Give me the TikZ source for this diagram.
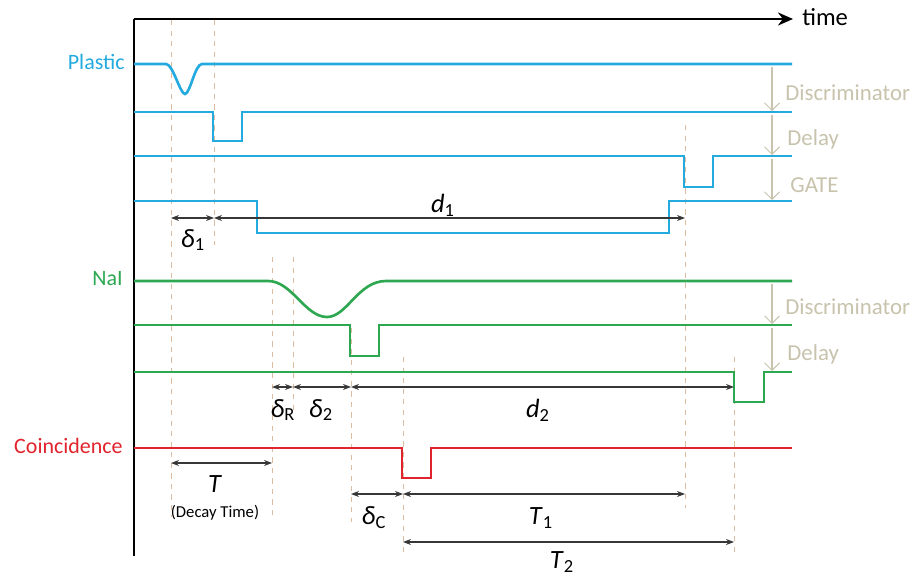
\documentclass[tikz,border=0pt]{standalone}
\usepackage{fontspec}
\setmainfont{Carlito}
\usepackage{tikz}
\usetikzlibrary{arrows.meta,positioning}
\definecolor{plastC}{RGB}{35,170,222}
\definecolor{naiG}{RGB}{45,168,80}
\definecolor{coinR}{RGB}{225,35,45}
\definecolor{stepT}{RGB}{200,195,172}
\definecolor{markD}{RGB}{222,188,160}
\definecolor{dimK}{RGB}{55,55,55}
\newcommand{\tsym}[2]{\textit{#1}\textsubscript{#2}}

\begin{document}
\begin{tikzpicture}[x=0.02cm, y=-0.02cm, font=\fontsize{12.5}{15}\selectfont,
  pl/.style={draw=plastC, line width=1.5pt},
  na/.style={draw=naiG, line width=1.5pt},
  co/.style={draw=coinR, line width=1.5pt},
  tmark/.style={draw=markD, dashed, line width=0.5pt},
  dim/.style={draw=dimK, line width=0.7pt, {Stealth[length=1.6mm]}-{Stealth[length=1.6mm]}},
  stage/.style={draw=stepT, line width=0.6pt, -{Straight Barb[length=1.5mm]}},
  stagetxt/.style={text=stepT, anchor=west, inner sep=0, font=\fontsize{13}{15}\selectfont},
  sig/.style={anchor=east, inner sep=0},
  dimtxt/.style={font=\fontsize{15}{17}\selectfont, inner sep=0}]
  \useasboundingbox (0,0) rectangle (914,578);
  % event times
  \coordinate (tP) at (171,0);
  \coordinate (tD) at (214,0);
  \coordinate (tN) at (272,0);
  \coordinate (tR) at (293,0);
  \coordinate (tC) at (351,0);
  \coordinate (tK) at (403,0);
  \coordinate (tG) at (685,0);
  \coordinate (tE) at (734,0);
  % dashed time markers
  \draw[tmark] (171,20) -- (171,517);
  \draw[tmark] (214,20) -- (214,245);
  \draw[tmark] (272,257) -- (272,517);
  \draw[tmark] (293,257) -- (293,415);
  \draw[tmark] (351,328) -- (351,522);
  \draw[tmark] (403,357) -- (403,556);
  \draw[tmark] (685,125) -- (685,508);
  \draw[tmark] (734,357) -- (734,553);
  % axes
  \coordinate (o) at (134,556);
  \coordinate (top) at (134,19);
  \coordinate (tend) at (793,19);
  \node[inner sep=0, anchor=west, font=\fontsize{14}{16}\selectfont] (time) at (802,17) {time};
  \draw[line width=1.5pt] (o) -- (top);
  \draw[line width=1.5pt, -{Stealth[length=3mm, width=2.6mm]}] (top) -- (tend);
  % plastic signals
  \node[sig, text=plastC] (plast) at (125,62) {Plastic};
  \draw[pl] (134,64) -- (166,64) .. controls (173,64) and (180,94) .. (185,94)
    .. controls (190,94) and (195,64) .. (202,64) -- (792,64);
  \draw[pl] (134,112) -- (213,112) -- (213,141) -- (242,141) -- (242,112) -- (792,112);
  \draw[pl] (134,156) -- (684,156) -- (684,187) -- (713,187) -- (713,156) -- (792,156);
  \draw[pl] (134,201) -- (257,201) -- (257,233) -- (669,233) -- (669,201) -- (792,201);
  % NaI signals
  \node[sig, text=naiG] (nai) at (123,279) {NaI};
  \draw[na] (134,281) -- (268,281) .. controls (292,281) and (305,317) .. (327,317)
    .. controls (347,317) and (358,281) .. (386,281) -- (792,281);
  \draw[na] (134,325) -- (350,325) -- (350,356) -- (379,356) -- (379,325) -- (792,325);
  \draw[na] (134,372) -- (734,372) -- (734,402) -- (764,402) -- (764,372) -- (792,372);
  % coincidence
  \node[sig, text=coinR] (coin) at (123,446) {Coincidence};
  \draw[co] (134,448) -- (402,448) -- (402,478) -- (431,478) -- (431,448) -- (792,448);
  % processing stages
  \draw[stage] (772,67) -- (772,111);
  \draw[stage] (772,115) -- (772,155);
  \draw[stage] (772,159) -- (772,200);
  \draw[stage] (772,284) -- (772,324);
  \draw[stage] (772,328) -- (772,371);
  \node[stagetxt] (disc1) at (785,93) {Discriminator};
  \node[stagetxt] (del1) at (787,139) {Delay};
  \node[stagetxt] (gate) at (790,185) {GATE};
  \node[stagetxt] (disc2) at (785,307) {Discriminator};
  \node[stagetxt] (del2) at (787,354) {Delay};
  % intervals
  \coordinate (r1) at (0,218);
  \coordinate (r2) at (0,387);
  \coordinate (r3) at (0,463);
  \coordinate (r4) at (0,494);
  \coordinate (r5) at (0,542);
  \draw[dim] (tP |- r1) -- (tD |- r1);
  \draw[dim] (tD |- r1) -- (tG |- r1);
  \draw[dim] (tN |- r2) -- (tR |- r2);
  \draw[dim] (tR |- r2) -- (tC |- r2);
  \draw[dim] (tC |- r2) -- (tE |- r2);
  \draw[dim] (tP |- r3) -- (tN |- r3);
  \draw[dim] (tC |- r4) -- (tK |- r4);
  \draw[dim] (tK |- r4) -- (tG |- r4);
  \draw[dim] (tK |- r5) -- (tE |- r5);
  \node[dimtxt] (dl1) at (193,240) {\tsym{δ}{1}};
  \node[dimtxt] (dd1) at (443,205) {\tsym{d}{1}};
  \node[dimtxt] (dlR) at (283,410) {\tsym{δ}{R}};
  \node[dimtxt] (dl2) at (321,410) {\tsym{δ}{2}};
  \node[dimtxt] (dd2) at (538,410) {\tsym{d}{2}};
  \node[dimtxt] (tT) at (215,484) {\textit{T}};
  \node[inner sep=0, font=\fontsize{9.5}{11}\selectfont] (decay) at (215,513) {(Decay Time)};
  \node[dimtxt] (dlC) at (374,518) {\tsym{δ}{C}};
  \node[dimtxt] (tT1) at (541,518) {\tsym{T}{1}};
  \node[dimtxt] (tT2) at (562,562) {\tsym{T}{2}};
\end{tikzpicture}
\end{document}
